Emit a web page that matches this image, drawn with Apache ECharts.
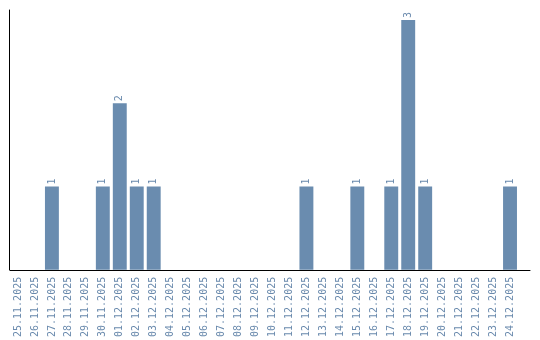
<!DOCTYPE html>
<html><head><meta charset="utf-8">
<script src="https://cdn.jsdelivr.net/npm/echarts@6/dist/echarts.min.js"></script>
<style>html,body{margin:0;padding:0;background:#fff}#c{width:540px;height:340px}</style>
</head><body><div id="c"></div>
<script>
const categories = ['25.11.2025','26.11.2025','27.11.2025','28.11.2025','29.11.2025','30.11.2025','01.12.2025','02.12.2025','03.12.2025','04.12.2025','05.12.2025','06.12.2025','07.12.2025','08.12.2025','09.12.2025','10.12.2025','11.12.2025','12.12.2025','13.12.2025','14.12.2025','15.12.2025','16.12.2025','17.12.2025','18.12.2025','19.12.2025','20.12.2025','21.12.2025','22.12.2025','23.12.2025','24.12.2025'];
const values = [0,0,1,0,0,1,2,1,1,0,0,0,0,0,0,0,0,1,0,0,1,0,1,3,1,0,0,0,0,1];

const chart = echarts.init(document.getElementById('c'), null, {renderer:'canvas'});
chart.setOption({
  animation:false,
  grid:[
    {left:9.5, right:21.5, top:10, bottom:70},
    {left:10, right:10, top:10, bottom:70}
  ],
  xAxis:[
    {type:'category', gridIndex:0, data:categories,
     axisLine:{show:false}, axisTick:{show:false},
     axisLabel:{rotate:90, interval:0, color:'#6a8aad', fontFamily:'DejaVu Sans Mono', fontSize:10, margin:7}},
    {type:'value', gridIndex:1, min:0, max:1,
     axisLine:{show:true, lineStyle:{color:'#000', width:1}}, axisTick:{show:false},
     axisLabel:{show:false}, splitLine:{show:false}}
  ],
  yAxis:[
    {type:'value', gridIndex:0, min:0, max:3.12,
     axisLine:{show:true, lineStyle:{color:'#000', width:1}}, axisTick:{show:false},
     axisLabel:{show:false}, splitLine:{show:false}},
    {type:'value', gridIndex:1, min:0, max:1, show:false}
  ],
  series:[{
    type:'bar', xAxisIndex:0, yAxisIndex:0, data:values.map(v=>v===0?null:v),
    barCategoryGap:'18%',
    itemStyle:{color:'#6a8caf'},
    label:{show:true, position:'top', rotate:90, align:'left', verticalAlign:'middle', distance:2,
      color:'#6a8aad', fontFamily:'DejaVu Sans Mono', fontSize:10}
  }]
});
</script></body></html>
